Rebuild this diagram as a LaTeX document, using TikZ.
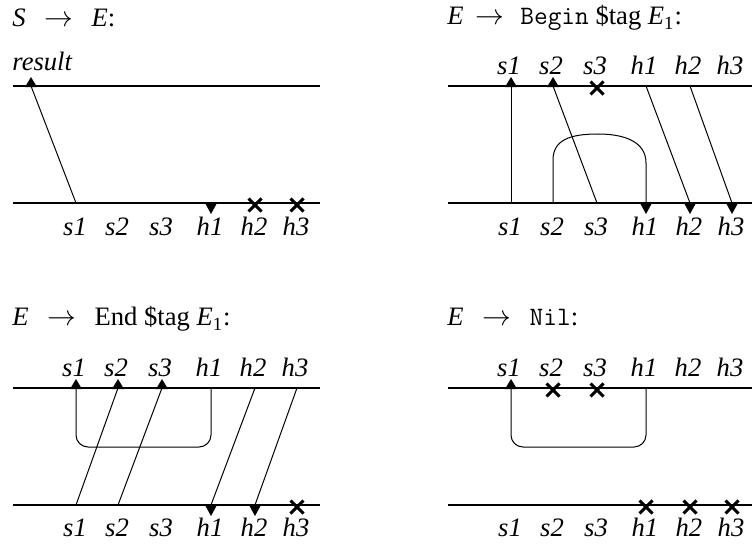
\documentclass[tikz,border=0pt]{standalone}
\usepackage{fontspec}
\setmainfont{Liberation Serif}
\newcommand\mkpanel[3]{%
  \coordinate (#1TL) at ({#2+13},{#3+86});
  \coordinate (#1TR) at ({#2+320},{#3+86});
  \coordinate (#1BL) at ({#2+13},{#3+203});
  \coordinate (#1BR) at ({#2+320},{#3+203});
  \draw[hline] (#1TL) -- (#1TR);
  \draw[hline] (#1BL) -- (#1BR);
  \foreach \n/\x in {s1/76,s2/118,s3/162,h1/211,h2/255,h3/297}{
    \coordinate (#1t\n) at ({#2+\x},{#3+86});
    \coordinate (#1b\n) at ({#2+\x},{#3+203});
    \node[lab] (#1Lb\n) at ({#2+\x-1},{#3+235}) {\n};
  }}
\newcommand\mktoplabels[3]{%
  \foreach \n/\x in {s1/76,s2/118,s3/162,h1/211,h2/255,h3/297}{
    \node[lab] (#1Lt\n) at ({#2+\x-2},{#3+75}) {\n};
  }}
\begin{document}
\begin{tikzpicture}[x=0.5pt,y=-0.5pt,
  hline/.style={line width=0.95pt},
  conn/.style={line width=0.5pt},
  lab/.style={anchor=base,inner sep=0pt,font=\fontsize{13.3}{15}\selectfont\itshape},
  ttl/.style={anchor=base west,inner sep=0pt,font=\fontsize{13.3}{15}\selectfont},
  uptri/.pic={\fill (-6,1) -- (6,1) -- (0,-9) -- cycle;},
  dntri/.pic={\fill (-6,0) -- (6,0) -- (0,11) -- cycle;},
  xmark/.pic={\draw[line width=1.45pt] (-6.5,-4.5) -- (6.5,8.5) (-6.5,8.5) -- (6.5,-4.5);}
]
\useasboundingbox (0,0) rectangle (752,546);

% ---------- Panel 1: S -> E ----------
\node[ttl] (aT) at (12,26) {\textit{S}\hspace{0.7em}$\rightarrow$\hspace{0.7em}\textit{E}:};
\mkpanel{a}{0}{0}
\node[lab,anchor=base west] (ares) at (12,70) {result};
\coordinate (ar) at (31,86);
\draw[conn] (ar) -- (abs1);
\pic at (ar) {uptri};
\pic at (abh1) {dntri};
\pic at (abh2) {xmark};
\pic at (abh3) {xmark};

% ---------- Panel 2: E -> Begin $tag E1 ----------
\node[ttl] (bT) at (447,25) {\textit{E}\hspace{0.45em}$\rightarrow$\hspace{0.6em}\texttt{Begin} \$tag \textit{E}\textsubscript{1}:};
\mkpanel{b}{435}{0}
\mktoplabels{b}{435}{0}
\draw[conn] (bts1) -- (bbs1);
\draw[conn] (bts2) -- (bbs3);
\draw[conn] (bth1) -- (bbh2);
\draw[conn] (bth2) -- (bbh3);
\coordinate (bA1) at (553,160);
\coordinate (bAm) at (598,134);
\coordinate (bA2) at (646,163);
\draw[conn] (bbs2) -- (bA1) .. controls (553,140) and (570,134) .. (bAm)
  .. controls (625,134) and (646,142) .. (bA2) -- (bbh1);
\pic at (bts1) {uptri};
\pic at (bts2) {uptri};
\pic at (bts3) {xmark};
\pic at (bbh1) {dntri};
\pic at (bbh2) {dntri};
\pic at (bbh3) {dntri};

% ---------- Panel 3: E -> End $tag E1 ----------
\node[ttl] (cT) at (12,326) {\textit{E}\hspace{0.7em}$\rightarrow$\hspace{0.7em}End \$tag \textit{E}\textsubscript{1}:};
\mkpanel{c}{0}{302}
\mktoplabels{c}{0}{302}
\coordinate (cLb) at (211,447);
\draw[conn,rounded corners=6pt] (cts1) |- (cLb) -- (cth1);
\draw[conn] (cbs1) -- (cts2);
\draw[conn] (cbs2) -- (cts3);
\draw[conn] (cth2) -- (cbh1);
\draw[conn] (cth3) -- (cbh2);
\pic at (cts1) {uptri};
\pic at (cts2) {uptri};
\pic at (cts3) {uptri};
\pic at (cbh1) {dntri};
\pic at (cbh2) {dntri};
\pic at (cbh3) {xmark};

% ---------- Panel 4: E -> Nil ----------
\node[ttl] (dT) at (447,326) {\textit{E}\hspace{0.7em}$\rightarrow$\hspace{0.7em}\texttt{Nil}:};
\mkpanel{d}{435}{302}
\mktoplabels{d}{435}{302}
\coordinate (dLb) at (646,447);
\draw[conn,rounded corners=6pt] (dts1) |- (dLb) -- (dth1);
\pic at (dts1) {uptri};
\pic at (dts2) {xmark};
\pic at (dts3) {xmark};
\pic at (dbh1) {xmark};
\pic at (dbh2) {xmark};
\pic at (dbh3) {xmark};
\end{tikzpicture}
\end{document}
